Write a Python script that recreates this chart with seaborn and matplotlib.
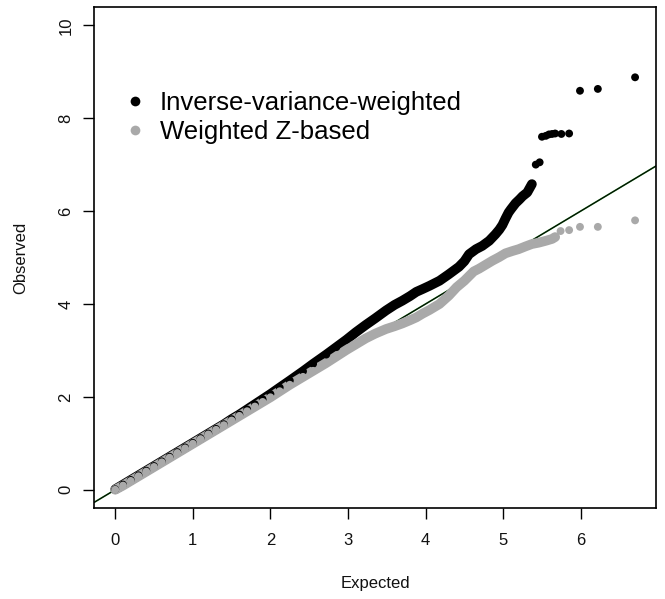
import matplotlib
matplotlib.use("Agg")
import matplotlib.pyplot as plt
import seaborn as sns
import pandas as pd
import numpy as np
from matplotlib.lines import Line2D

# ---- data (Expected vs Observed -log10 p) ----
ivw_expected = [0.00, 0.10, 0.20, 0.30, 0.40, 0.50, 0.60, 0.70, 0.80, 0.90,
                1.00, 1.10, 1.20, 1.30, 1.40, 1.50, 1.60, 1.70, 1.80, 1.90,
                2.00, 2.12, 2.25, 2.42, 2.55, 2.72, 2.85, 2.98, 3.10, 3.23,
                3.35, 3.49, 3.60, 3.70, 3.80, 3.88, 3.96, 4.05, 4.18, 4.30,
                4.43, 4.50, 4.56, 4.65, 4.73, 4.82, 4.90, 4.95, 4.99, 5.03,
                5.07, 5.10, 5.16, 5.21, 5.25, 5.31, 5.37,
                5.42, 5.47, 5.50, 5.55, 5.59, 5.63, 5.67, 5.75, 5.85,
                5.99, 6.22, 6.70]
ivw_observed = [0.01, 0.11, 0.21, 0.31, 0.41, 0.51, 0.61, 0.71, 0.81, 0.91,
                1.01, 1.11, 1.21, 1.31, 1.41, 1.52, 1.62, 1.73, 1.84, 1.95,
                2.06, 2.20, 2.35, 2.55, 2.71, 2.91, 3.07, 3.23, 3.39, 3.55,
                3.69, 3.86, 3.98, 4.07, 4.17, 4.26, 4.32, 4.39, 4.50, 4.64,
                4.80, 4.92, 5.07, 5.18, 5.25, 5.36, 5.50, 5.60, 5.70, 5.84,
                5.97, 6.04, 6.17, 6.25, 6.32, 6.40, 6.58,
                7.00, 7.05, 7.60, 7.62, 7.65, 7.66, 7.67, 7.66, 7.67,
                8.59, 8.63, 8.88]

wz_expected = [0.00, 0.10, 0.20, 0.30, 0.40, 0.50, 0.60, 0.70, 0.80, 0.90,
               1.00, 1.10, 1.20, 1.30, 1.40, 1.50, 1.60, 1.70, 1.80, 1.90,
               2.00, 2.12, 2.25, 2.42, 2.55, 2.72, 2.85, 2.98, 3.10, 3.23,
               3.35, 3.49, 3.60, 3.70, 3.80, 3.88, 3.96, 4.05, 4.18, 4.30,
               4.40, 4.50, 4.56, 4.62, 4.69, 4.78, 4.86, 4.95, 5.03, 5.12,
               5.20, 5.29, 5.37, 5.46, 5.55, 5.63, 5.67,
               5.74, 5.85, 5.99, 6.22, 6.70]
wz_observed = [0.00, 0.09, 0.19, 0.29, 0.39, 0.49, 0.59, 0.69, 0.79, 0.89,
               0.99, 1.09, 1.19, 1.29, 1.39, 1.49, 1.59, 1.69, 1.79, 1.89,
               1.99, 2.12, 2.26, 2.43, 2.56, 2.73, 2.87, 3.01, 3.13, 3.26,
               3.36, 3.46, 3.52, 3.58, 3.65, 3.71, 3.79, 3.87, 4.00, 4.18,
               4.36, 4.50, 4.60, 4.70, 4.76, 4.85, 4.93, 5.01, 5.09, 5.14,
               5.18, 5.24, 5.29, 5.32, 5.36, 5.40, 5.44,
               5.57, 5.59, 5.66, 5.66, 5.80]

series_names = ["Inverse-variance-weighted", "Weighted Z-based"]
series_colors = ["#000000", "#a9a9a9"]
dense_limit = [5.38, 5.68]      # end of the continuous band of each series

x_ticks = [0, 1, 2, 3, 4, 5, 6]
y_ticks = [0, 2, 4, 6, 8, 10]
ref_intercept, ref_slope = 0.0, 1.0

df = pd.concat([
    pd.DataFrame({"Expected": ivw_expected, "Observed": ivw_observed, "method": series_names[0]}),
    pd.DataFrame({"Expected": wz_expected, "Observed": wz_observed, "method": series_names[1]}),
], ignore_index=True)

# ---- figure ----
sns.set_style("white")
plt.rcParams["font.family"] = ["Liberation Sans", "DejaVu Sans"]
plt.rcParams["text.color"] = "black"
plt.rcParams["axes.labelcolor"] = "black"

fig = plt.figure(figsize=(6.65, 5.99), dpi=100)
ax = fig.add_axes([0.1418, 0.1514, 0.9865 - 0.1418, 0.9888 - 0.1514])

# reference line y = x
ax.axline((0, ref_intercept), slope=ref_slope, color="#1f7a1f", lw=1.2, zorder=1)
ax.axline((0, ref_intercept), slope=ref_slope, color="black", lw=0.7, zorder=1.1)

palette = dict(zip(series_names, series_colors))
for name, lim in zip(series_names, dense_limit):
    sub = df[(df["method"] == name) & (df["Expected"] <= lim)]
    sns.lineplot(data=sub, x="Expected", y="Observed", color=palette[name],
                 lw=7.0, sort=False, estimator=None, ax=ax, zorder=2,
                 solid_capstyle="round", solid_joinstyle="round", legend=False)
    sns.scatterplot(data=df[df["method"] == name], x="Expected", y="Observed",
                    color=palette[name], s=32, edgecolor="none", ax=ax,
                    zorder=2.5, legend=False)

ax.set_xlim(-0.27, 6.97)
ax.set_ylim(-0.4, 10.4)
ax.set_xticks(x_ticks)
ax.set_yticks(y_ticks)
ax.set_xticklabels([str(t) for t in x_ticks], fontsize=12)
ax.set_yticklabels([str(t) for t in y_ticks], fontsize=12, rotation=90, va="center")
ax.tick_params(axis="both", direction="out", length=8, width=1.0, color="black",
               labelcolor="#111111", bottom=True, left=True)
ax.tick_params(axis="x", pad=10)
ax.tick_params(axis="y", pad=7)
for sp in ax.spines.values():
    sp.set_visible(True)
    sp.set_color("black")
    sp.set_linewidth(1.2)

ax.set_xlabel("Expected", fontsize=12, labelpad=20, color="#111111")
ax.set_ylabel("Observed", fontsize=12, labelpad=22, color="#111111")

handles = [Line2D([], [], marker="o", linestyle="none", markersize=7,
                  markerfacecolor=c, markeredgecolor="none") for c in series_colors]
leg = ax.legend(handles, series_names, loc="center left", bbox_to_anchor=(0.05, 0.779),
                frameon=False, fontsize=18.5, handlelength=1.0, handletextpad=0.45,
                borderpad=0, borderaxespad=0, labelspacing=0.2)
for t in leg.get_texts():
    t.set_color("black")

fig.savefig("out.png", dpi=100)
